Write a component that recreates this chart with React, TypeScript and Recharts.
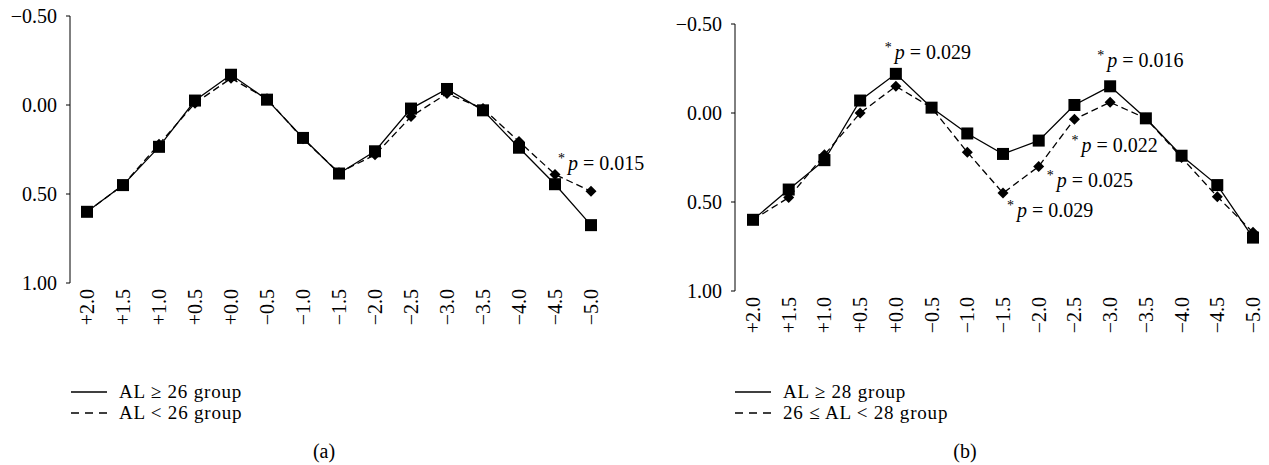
import { Line, LineChart, XAxis, YAxis } from "recharts";

// defocus steps (D) on the x axis, accommodation response on the y axis
const steps = ["+2.0", "+1.5", "+1.0", "+0.5", "+0.0", "−0.5", "−1.0", "−1.5", "−2.0", "−2.5", "−3.0", "−3.5", "−4.0", "−4.5", "−5.0"];
const yTicks = [-0.5, 0, 0.5, 1.0];

// panel (a)
const aLong = [0.6, 0.45, 0.235, -0.025, -0.17, -0.03, 0.185, 0.385, 0.26, 0.02, -0.09, 0.03, 0.24, 0.445, 0.675];
const aShort = [0.6, 0.45, 0.22, -0.01, -0.15, -0.035, 0.19, 0.38, 0.28, 0.065, -0.065, 0.02, 0.205, 0.39, 0.485];
const aNotes = [{ series: "short", step: "−4.5", p: "0.015" }];

// panel (b)
const bLong = [0.6, 0.43, 0.265, -0.07, -0.22, -0.03, 0.115, 0.23, 0.155, -0.045, -0.15, 0.03, 0.24, 0.405, 0.7];
const bMid = [0.6, 0.475, 0.235, 0.0, -0.15, -0.03, 0.22, 0.45, 0.3, 0.035, -0.06, 0.03, 0.25, 0.47, 0.67];
const bNotes = [
  { series: "long", step: "+0.0", p: "0.029" },
  { series: "long", step: "−3.0", p: "0.016" },
  { series: "short", step: "−2.5", p: "0.022" },
  { series: "short", step: "−2.0", p: "0.025" },
  { series: "short", step: "−1.5", p: "0.029" },
];

// where each note sits relative to its point
const notePlace: Record<string, [number, number]> = {
  "a|short|−4.5": [3, -4],
  "b|long|+0.0": [-11, -15],
  "b|long|−3.0": [-13, -19],
  "b|short|−2.5": [-3, 33],
  "b|short|−2.0": [8, 21],
  "b|short|−1.5": [4, 24],
};

const FONT = "'Liberation Serif', 'Times New Roman', serif";

type Note = { series: string; step: string; p: string };

function buildRows(long: number[], short: number[]) {
  return steps.map((s, i) => ({ step: s, long: long[i], short: short[i] }));
}

const fmtY = (v: number) => (v < 0 ? "−" + Math.abs(v).toFixed(2) : v.toFixed(2));

function NoteText({ x, y, p }: { x: number; y: number; p: string }) {
  return (
    <text x={x} y={y} fontSize={20} fill="#000" fontFamily={FONT}>
      <tspan fontSize={14} dy={-7}>*</tspan>
      <tspan dx={3} dy={7} fontStyle="italic">p</tspan>
      <tspan>{" = " + p}</tspan>
    </text>
  );
}

function makeDot(panel: string, series: string, shape: "square" | "diamond", notes: Note[]) {
  return (props: any) => {
    const { cx, cy, index, payload } = props;
    if (cx == null || cy == null) return <g key={index} />;
    const note = notes.find((n) => n.series === series && n.step === payload.step);
    const place = note ? notePlace[`${panel}|${series}|${note.step}`] : null;
    return (
      <g key={`${series}-${index}`}>
        {shape === "square" ? (
          <rect x={cx - 6} y={cy - 6} width={12} height={12} fill="#000" />
        ) : (
          <path d={`M${cx},${cy - 5.5}L${cx + 5.5},${cy}L${cx},${cy + 5.5}L${cx - 5.5},${cy}Z`} fill="#000" />
        )}
        {note && place && <NoteText x={cx + place[0]} y={cy + place[1]} p={note.p} />}
      </g>
    );
  };
}

function XTick({ x, y, payload }: any) {
  return (
    <text x={x} y={y} transform={`rotate(-90, ${x}, ${y})`} textAnchor="end" dy="0.35em" fontSize={20} fill="#000" fontFamily={FONT}>
      {payload.value}
    </text>
  );
}

function YTick({ x, y, payload }: any) {
  return (
    <text x={x} y={y} textAnchor="end" dy="0.35em" fontSize={20} fill="#000" fontFamily={FONT}>
      {fmtY(payload.value)}
    </text>
  );
}

function Panel({ panel, rows, notes, top, yWidth, width, right, padL, padR }: any) {
  return (
    <LineChart width={width} height={340} data={rows} margin={{ top, right, left: 0, bottom: 0 }} style={{ fontFamily: FONT }}>
      <XAxis
        dataKey="step"
        axisLine={false}
        tickLine={false}
        tickSize={0}
        tickMargin={6}
        height={340 - top - 267}
        interval={0}
        padding={{ left: padL, right: padR }}
        tick={<XTick />}
      />
      <YAxis
        type="number"
        domain={[-0.5, 1]}
        reversed
        ticks={yTicks}
        width={yWidth}
        allowDataOverflow
        axisLine={{ stroke: "#000" }}
        tickLine={{ stroke: "#000" }}
        tickSize={4}
        tickMargin={9}
        tick={<YTick />}
      />
      <Line dataKey="short" stroke="#000" strokeWidth={1.3} strokeDasharray="7 4" dot={makeDot(panel, "short", "diamond", notes)} activeDot={false} isAnimationActive={false} />
      <Line dataKey="long" stroke="#000" strokeWidth={1.3} dot={makeDot(panel, "long", "square", notes)} activeDot={false} isAnimationActive={false} />
    </LineChart>
  );
}

function LegendBox({ left, solid, dashed }: { left: number; solid: string; dashed: string }) {
  const row = (label: string, dash: string | undefined, top: number) => (
    <div style={{ position: "absolute", left, top, height: 21, lineHeight: "21px", display: "flex", alignItems: "center", whiteSpace: "nowrap" }}>
      <svg width={36} height={4} style={{ marginRight: 12 }}>
        <line x1={0} y1={2} x2={36} y2={2} stroke="#000" strokeWidth={1.3} strokeDasharray={dash} />
      </svg>
      <span style={{ fontSize: 19, lineHeight: "21px", letterSpacing: 0.8 }}>{label}</span>
    </div>
  );
  return (
    <>
      {row(solid, undefined, 381)}
      {row(dashed, "8 6", 402)}
    </>
  );
}

export default function App() {
  return (
    <div style={{ position: "absolute", left: 0, top: 0, width: 1269, height: 465, overflow: "hidden", background: "#fff", fontFamily: FONT, color: "#000" }}>
      <div style={{ position: "absolute", left: 0, top: 0 }}>
        <Panel panel="a" rows={buildRows(aLong, aShort)} notes={aNotes} top={16} yWidth={70} width={670} right={61} padL={17} padR={18} />
      </div>
      <div style={{ position: "absolute", left: 640, top: 0 }}>
        <Panel panel="b" rows={buildRows(bLong, bMid)} notes={bNotes} top={24} yWidth={95} width={632} right={1} padL={18} padR={18} />
      </div>
      <LegendBox left={71} solid="AL ≥ 26 group" dashed="AL < 26 group" />
      <LegendBox left={735} solid="AL ≥ 28 group" dashed="26 ≤ AL < 28 group" />
      <div style={{ position: "absolute", left: 304, top: 440, width: 40, textAlign: "center", fontSize: 20 }}>(a)</div>
      <div style={{ position: "absolute", left: 945, top: 440, width: 40, textAlign: "center", fontSize: 20 }}>(b)</div>
    </div>
  );
}
